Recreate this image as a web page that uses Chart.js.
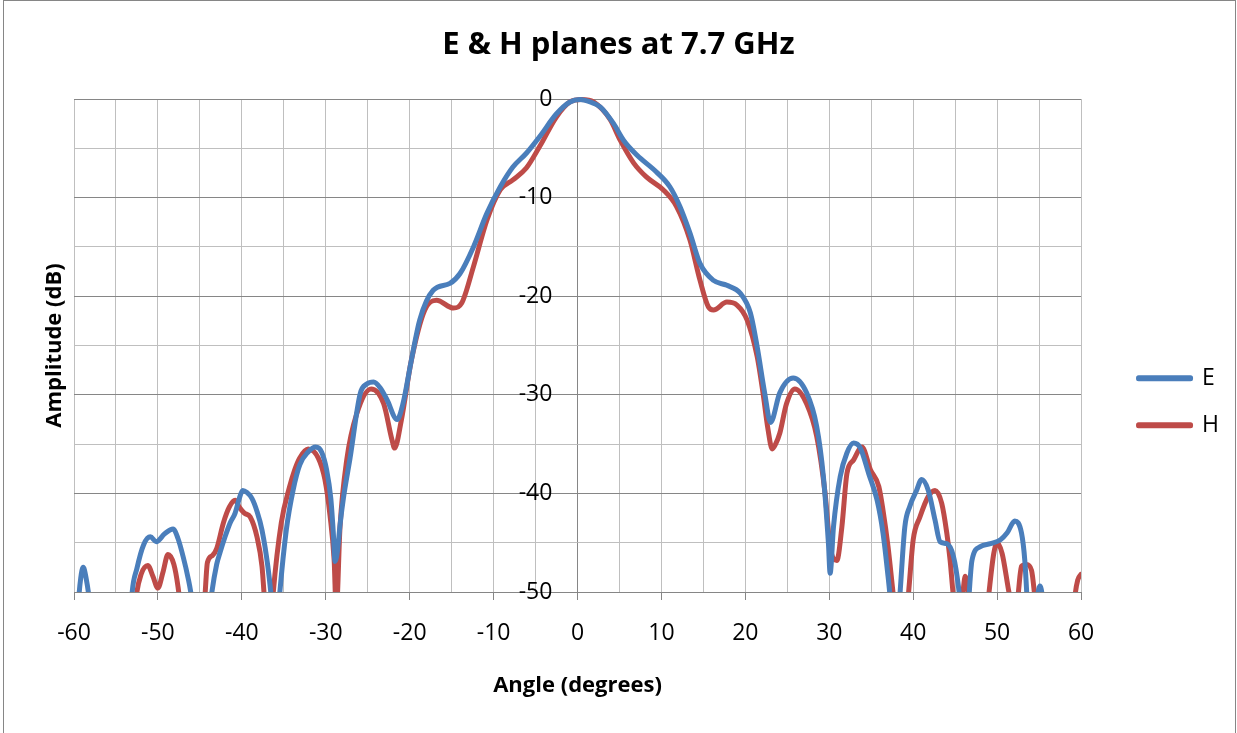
<!DOCTYPE html>
<html>
<head>
<meta charset="utf-8">
<title>E &amp; H planes at 7.7 GHz</title>
<script src="https://cdn.jsdelivr.net/npm/chart.js@4.4.0/dist/chart.umd.min.js"></script>
<style>
    html, body { margin: 0; padding: 0; background: #fff; overflow: hidden; }
    #myChart { position: absolute; left: 0; top: 0; }
    #frame { position: absolute; left: 3px; top: 0; width: 1231px; height: 760px; border: 1px solid #868686; pointer-events: none; }
</style>
</head>
<body>
<canvas id="myChart" width="1237" height="733"></canvas>
<div id="frame"></div>
<script>
// Dados (ângulo em graus, amplitude em dB) //
const eAngles = [-60, -59.5, -59.2, -58.9, -58.6, -58.1, -57.5, -55.5, -53.6, -53.1, -52.5, -51.7, -50.9, -50.2, -49.2, -48.2, -47.6, -47.0, -46.4, -46.0,
    -45.0, -44.1, -43.6, -43.0, -42.6, -42.0, -41.4, -40.8, -40.3, -39.9, -39.4, -38.8, -38.2, -37.6, -36.9, -36.5, -36.0, -35.5, -34.7, -33.9,
    -33.1, -32.1, -31.2, -30.5, -29.9, -29.4, -29.1, -28.9, -28.6, -28.3, -27.9, -27.1, -25.9, -25.1, -24.3, -23.5, -22.7, -21.5, -20.8, -19.8,
    -18.8, -17.2, -15.2, -14.0, -12.4, -10.8, -9.2, -7.7, -6.1, -4.5, -2.5, -0.9, 0.3, 1.5, 2.7, 4.3, 5.5, 7.1, 9.4, 11.0,
    12.2, 13.4, 14.6, 16.2, 17.8, 19.4, 20.6, 21.4, 22.3, 23.0, 24.1, 25.7, 27.3, 28.5, 29.3, 29.9, 30.1, 30.5, 31.3, 32.1,
    32.9, 33.7, 34.7, 35.7, 36.4, 37.0, 37.3, 37.8, 38.4, 39.0, 39.6, 40.4, 41.0, 41.8, 42.6, 43.2, 44.0, 44.8, 45.4, 45.7,
    46.1, 46.6, 47.0, 48.0, 49.2, 50.4, 51.2, 52.1, 52.9, 53.3, 53.6, 54.2, 54.8, 55.1, 55.4, 56.0, 58.0, 60.0];
const eValues = [-62, -51.5, -48.6, -47.5, -48.4, -51.5, -60, -68, -58, -50.3, -47.6, -45.2, -44.4, -44.9, -44.1, -43.6, -44.6, -46.4, -48.6, -50.5,
    -58, -54, -50.2, -47.2, -46.0, -44.4, -43.0, -42.0, -40.5, -39.7, -39.9, -40.5, -41.8, -43.7, -47.4, -50.5, -56, -50.3, -43.7, -39.7,
    -37.1, -35.8, -35.3, -35.8, -37.6, -40.5, -44.0, -46.9, -45.8, -43.2, -40.5, -36.4, -29.9, -28.9, -28.7, -29.3, -30.5, -32.5, -30.9, -26.5,
    -22.4, -19.4, -18.7, -17.7, -15.0, -11.6, -8.9, -6.9, -5.5, -3.8, -1.5, -0.3, -0.05, -0.3, -0.8, -2.5, -4.2, -5.7, -7.4, -8.9,
    -10.9, -13.6, -16.7, -18.4, -18.9, -19.7, -21.7, -25.1, -29.8, -32.8, -29.8, -28.3, -29.8, -33.2, -38.3, -45.1, -48.1, -43.4, -38.3, -35.9,
    -34.9, -35.4, -38.0, -40.7, -44.0, -48.4, -51, -57, -50.5, -43.4, -41.3, -39.7, -38.6, -39.7, -42.7, -44.9, -45.1, -46.4, -49.5, -52,
    -57, -51, -46.8, -45.4, -45.1, -44.7, -44.0, -42.8, -44.0, -46.8, -51, -56, -50.6, -49.4, -50.6, -58, -68, -70];

const hAngles = [-60, -55, -53.3, -52.6, -52.0, -51.2, -50.6, -50.0, -49.4, -48.8, -48.1, -47.6, -47.2, -46.0, -45.0, -44.4, -44.1, -43.5, -43.0, -42.2,
    -41.5, -40.8, -40.3, -39.7, -39.0, -38.2, -37.6, -37.3, -36.8, -36.3, -35.3, -34.3, -33.7, -33.1, -32.1, -30.9, -30.1, -29.5, -29.0, -28.75,
    -28.3, -27.5, -26.3, -24.6, -23.1, -22.1, -21.8, -21.0, -19.8, -18.2, -16.8, -14.8, -13.8, -12.4, -10.8, -9.2, -7.7, -6.1, -4.5, -2.5,
    -0.9, 0.5, 1.9, 3.9, 5.1, 6.7, 8.2, 10.2, 11.8, 13.4, 14.6, 15.6, 16.2, 17.8, 19.0, 20.2, 21.4, 22.1, 22.7, 23.2,
    23.6, 24.1, 24.9, 25.9, 27.3, 28.5, 29.5, 30.1, 30.9, 31.5, 32.1, 32.9, 33.9, 34.9, 35.9, 36.4, 37.0, 37.6, 38.5, 39.4,
    40.0, 40.8, 41.8, 42.6, 43.4, 44.0, 44.4, 44.8, 45.3, 45.9, 46.2, 46.6, 47.8, 49.0, 49.6, 50.0, 50.6, 51.3, 51.5, 52.0,
    52.5, 52.9, 53.5, 54.1, 54.5, 56.0, 58.5, 59.3, 59.6, 60.0];
const hValues = [-70, -70, -58, -50.6, -48.2, -47.3, -48.4, -49.6, -48.0, -46.2, -47.2, -49.5, -52.5, -62, -58, -50.5, -47.0, -46.3, -45.6, -43.0,
    -41.4, -40.7, -41.4, -42.0, -42.4, -44.4, -47.4, -50.8, -57, -50.5, -43.0, -39.3, -37.6, -36.4, -35.5, -36.4, -38.6, -42.2, -46.8, -52,
    -43.4, -36.6, -31.9, -29.4, -30.9, -34.6, -35.4, -32.6, -26.5, -21.4, -20.4, -21.2, -20.7, -17.0, -12.3, -9.2, -8.2, -7.0, -4.8, -1.8,
    -0.3, -0.05, -0.3, -2.1, -4.2, -6.5, -7.9, -9.2, -10.9, -14.3, -18.4, -21.1, -21.4, -20.6, -20.9, -22.4, -26.1, -29.8, -33.5, -35.5,
    -35.0, -33.9, -30.9, -29.4, -30.9, -34.2, -40.0, -45.4, -46.8, -43.4, -38.0, -36.6, -35.3, -37.6, -39.3, -41.7, -45.4, -50.1, -57, -50.5,
    -44.7, -42.4, -40.3, -39.7, -41.0, -44.0, -46.8, -50.5, -53, -50.2, -48.4, -50.2, -60, -50.3, -46.1, -45.0, -46.1, -49.5, -50.5, -54,
    -50.3, -47.4, -47.2, -47.8, -50.5, -62, -60, -50.3, -48.8, -48.2];

const seriesNames = ["E", "H"];
const seriesColors = ["#4A7EBB", "#BE4B48"];
const angleRange = [-60, 60];
const amplitudeRange = [-50, 0];

Chart.defaults.font.family = "'Open Sans', sans-serif";
Chart.defaults.color = "#000";

function toPoints(angles, values) {
    return angles.map(function (a, i) {
        return { x: a, y: values[i] };
    });
}

function lineDataset(label, color, points) {
    return {
        label: label,
        data: points,
        borderColor: color,
        backgroundColor: color,
        borderWidth: 5,
        borderCapStyle: "round",
        borderJoinStyle: "round",
        pointRadius: 0,
        pointHoverRadius: 0,
        cubicInterpolationMode: "monotone",
        clip: { left: 0, right: 0, top: 6, bottom: 0 },
    };
}

const majorGrid = "#868686";
const minorGrid = "#BFBFBF";

function isMajor(ctx) {
    return ctx.tick && ctx.tick.value % 10 === 0;
}

const config = {
    type: "line",
    data: {
        datasets: [
            lineDataset(seriesNames[0], seriesColors[0], toPoints(eAngles, eValues)),
            lineDataset(seriesNames[1], seriesColors[1], toPoints(hAngles, hValues)),
        ],
    },
    options: {
        responsive: false,
        animation: false,
        devicePixelRatio: 1,
        layout: { padding: { left: 8, right: 8, top: 0, bottom: 0 } },
        plugins: {
            title: {
                display: true,
                text: "E & H planes at 7.7 GHz",
                font: { size: 31, weight: "bold" },
                padding: { top: 27, bottom: 34.8 },
            },
            legend: {
                position: "right",
                labels: {
                    boxWidth: 52,
                    boxHeight: 1,
                    padding: 24,
                    font: { size: 23 },
                },
                title: { display: true, text: "", font: { size: 12 }, padding: { top: 56, bottom: 0 } },
            },
            tooltip: { enabled: false },
        },
        scales: {
            x: {
                type: "linear",
                min: angleRange[0],
                max: angleRange[1],
                ticks: {
                    stepSize: 5,
                    autoSkip: false,
                    maxRotation: 0,
                    padding: 20,
                    font: { size: 23 },
                    callback: function (v) { return v % 10 === 0 ? String(v) : ""; },
                },
                grid: {
                    color: function (ctx) { return ctx.tick && ctx.tick.value === 0 ? majorGrid : minorGrid; },
                    tickLength: 8,
                    tickColor: function (ctx) { return isMajor(ctx) ? majorGrid : "rgba(0,0,0,0)"; },
                },
                border: { color: majorGrid },
                title: {
                    display: true,
                    text: "Angle (degrees)",
                    font: { size: 22, weight: "bold" },
                    padding: { top: 0, bottom: 33.8 },
                },
                afterFit: function (scale) { scale.height = 141; },
            },
            y: {
                type: "linear",
                min: amplitudeRange[0],
                max: amplitudeRange[1],
                // rótulos à esquerda da linha do zero //
                position: { x: -3 },
                ticks: {
                    stepSize: 5,
                    font: { size: 23 },
                    callback: function (v) { return v % 10 === 0 ? String(v) : ""; },
                },
                grid: {
                    color: function (ctx) { return isMajor(ctx) ? majorGrid : minorGrid; },
                    drawTicks: false,
                },
                border: { display: false },
            },
            // eixo só para o título à esquerda //
            yTitle: {
                type: "linear",
                position: "left",
                min: amplitudeRange[0],
                max: amplitudeRange[1],
                ticks: { display: false },
                grid: { display: false, drawTicks: false },
                border: { display: false },
                title: {
                    display: true,
                    text: "Amplitude (dB)",
                    font: { size: 22, weight: "bold" },
                    padding: { top: 33.8, bottom: 0 },
                },
                afterFit: function (scale) { scale.width = 66; },
            },
            // espaço entre a área do gráfico e a legenda //
            yRight: {
                type: "linear",
                position: "right",
                min: amplitudeRange[0],
                max: amplitudeRange[1],
                ticks: { display: false },
                grid: { display: false, drawTicks: false },
                border: { display: false },
                afterFit: function (scale) { scale.width = 33.5; },
            },
        },
    },
};

const myChart = new Chart(document.getElementById("myChart"), config);
</script>
</body>
</html>
